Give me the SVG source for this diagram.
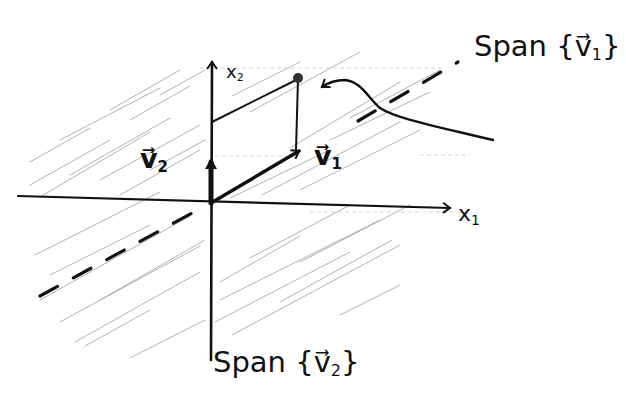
<svg xmlns="http://www.w3.org/2000/svg" width="626" height="412" viewBox="0 0 626 412">
<defs>
<style>
.hatch{stroke:#a8a8a8;stroke-width:0.9;fill:none;stroke-linecap:round}
.faint{stroke:#cfcfcf;stroke-width:0.9;fill:none;stroke-dasharray:4 3}
.ink{stroke:#111;fill:none;stroke-linecap:round;stroke-linejoin:round}
.dash{stroke:#111;fill:none;stroke-width:3.2;stroke-linecap:round;stroke-dasharray:20 18}
.lbl{font-family:"DejaVu Sans","Liberation Sans",sans-serif;fill:#111}
</style>
<marker id="open" markerWidth="12" markerHeight="12" refX="9" refY="6" orient="auto" markerUnits="userSpaceOnUse">
<path d="M2,1 L9,6 L2,11" stroke="#111" stroke-width="2" fill="none"/>
</marker>
<marker id="solid" markerWidth="16" markerHeight="16" refX="8" refY="8" orient="auto" markerUnits="userSpaceOnUse">
<path d="M1,2 L12,8 L1,14 Z" fill="#111"/>
</marker>
</defs>
<rect width="626" height="412" fill="#fff"/>
<g id="hatching">
<path class="hatch" d="M30,185 L110,140 M40,197 L150,132 M60,140 L160,88 M100,180 L200,125 M130,120 L190,86 M30,162 L90,128 M70,175 L170,118 M150,170 L205,140 M120,195 L200,150 M110,110 L180,70 M160,95 L205,70"/>
<path class="hatch" d="M35,255 L160,192 M40,300 L190,216 M60,322 L200,246 M75,342 L200,272 M85,346 L150,310 M130,358 L205,320 M50,275 L150,225 M100,300 L205,240"/>
<path class="hatch" d="M220,300 L380,220 M215,322 L350,252 M232,335 L400,245 M250,258 L350,205 M280,302 L392,240 M340,315 L400,285 M220,282 L300,236 M300,262 L410,205"/>
<path class="hatch" d="M230,198 L330,150 M262,195 L400,122 M300,190 L420,130 M330,140 L430,92 M290,148 L400,82 M250,112 L360,52 M232,96 L300,62 M350,118 L440,70"/>
<path class="faint" d="M200,68 L445,68 M215,156 L300,156 M420,155 L470,155 M310,212 L470,212"/>
</g>
<g id="connectors">
<path id="span-v1-lower" class="dash" d="M40,296 L205,206"/>
<path id="span-v1-upper" class="dash" d="M358,121 L458,62"/>
<path id="x1-axis" class="ink" d="M18,196 L450,208" stroke-width="2.2" marker-end="url(#open)"/>
<path id="x2-axis" class="ink" d="M211,360 L212,62" stroke-width="2.6" marker-end="url(#open)"/>
<path id="v2" class="ink" d="M211,203 L211,162" stroke-width="5" marker-end="url(#solid)"/>
<path id="v1" class="ink" d="M211,203 L299,151" stroke-width="3.5" marker-end="url(#open)"/>
<path id="para-v1" class="ink" d="M212,122 L298,79" stroke-width="2"/>
<path id="para-v2" class="ink" d="M298,79 L296,150" stroke-width="2"/>
<path id="pointer" class="ink" d="M493,140 C430,125 395,118 380,108 C368,98 362,82 345,80 C336,80 329,82 322,87" stroke-width="2.4" marker-end="url(#open)"/>
</g>
<g id="point"><circle cx="298" cy="78" r="5" fill="#333"/></g>
<g id="label-x1"><text class="lbl" x="458" y="221" font-size="22">x<tspan font-size="14" dy="4">1</tspan></text></g>
<g id="label-x2"><text class="lbl" x="226" y="78" font-size="18">x<tspan font-size="11" dy="3">2</tspan></text></g>
<g id="label-v1"><text class="lbl" x="314" y="165" font-size="27" font-weight="bold">v⃗<tspan font-size="15" dy="4">1</tspan></text></g>
<g id="label-v2"><text class="lbl" x="140" y="168" font-size="27" font-weight="bold">v⃗<tspan font-size="15" dy="4">2</tspan></text></g>
<g id="label-span-v1"><text class="lbl" x="474" y="56" font-size="29">Span {v⃗<tspan font-size="16" dy="4">1</tspan><tspan dy="-4">}</tspan></text></g>
<g id="label-span-v2"><text class="lbl" x="213" y="372" font-size="29">Span {v⃗<tspan font-size="16" dy="4">2</tspan><tspan dy="-4">}</tspan></text></g>
</svg>
